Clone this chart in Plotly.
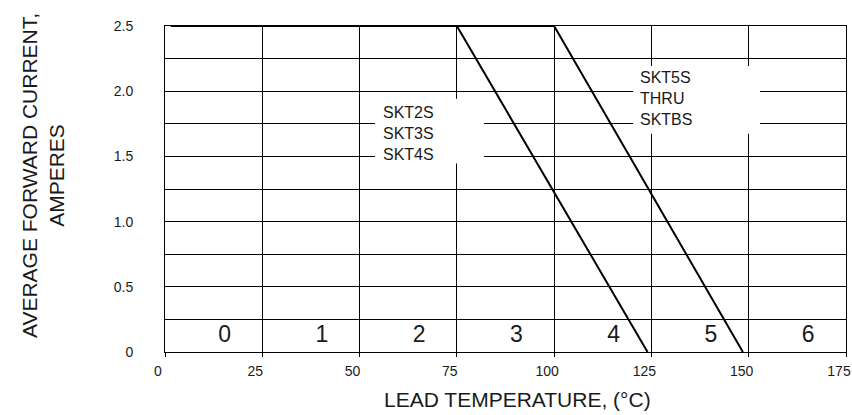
import plotly.graph_objects as go

# ---- data ----
temp_ticks = [0, 25, 50, 75, 100, 125, 150, 175]
current_ticks = [0, 0.5, 1.0, 1.5, 2.0, 2.5]
current_tick_text = ["0", "0.5", "1.0", "1.5", "2.0", "2.5"]

# derating curve SKT2S / SKT3S / SKT4S
curve1_temp = [1.5, 75, 124]
curve1_amps = [2.5, 2.5, 0]
# derating curve SKT5S thru SKTBS
curve2_temp = [1.5, 100, 148.5]
curve2_amps = [2.5, 2.5, 0]

cell_numbers = ["0", "1", "2", "3", "4", "5", "6"]
cell_x = [15.3, 40.3, 65.3, 90.3, 115.3, 140.3, 165.3]
cell_y = [0.12] * 7

label1 = "SKT2S<br>SKT3S<br>SKT4S"
label2 = "SKT5S<br>THRU<br>SKTBS"

FONT = "Arial, 'Liberation Sans', sans-serif"
INK = "#1a1a1a"

fig = go.Figure()

for xs, ys in [(curve1_temp, curve1_amps), (curve2_temp, curve2_amps)]:
    fig.add_trace(go.Scatter(x=xs, y=ys, mode="lines",
                             line=dict(color="black", width=2),
                             showlegend=False, hoverinfo="skip"))

fig.add_trace(go.Scatter(x=cell_x, y=cell_y, mode="text", text=cell_numbers,
                         textfont=dict(family=FONT, size=23, color=INK),
                         showlegend=False, hoverinfo="skip"))

# white boxes behind the labels (hide gridlines)
fig.add_shape(type="rect", x0=54.0, x1=82.0, y0=1.445, y1=1.942,
              fillcolor="white", line=dict(width=0), layer="between")
fig.add_shape(type="rect", x0=120.3, x1=152.9, y0=1.674, y1=2.194,
              fillcolor="white", line=dict(width=0), layer="between")

fig.add_annotation(x=55.5, y=1.674, text=label1, showarrow=False,
                   xanchor="left", yanchor="middle", align="left",
                   font=dict(family=FONT, size=16, color=INK))
fig.add_annotation(x=121.6, y=1.942, text=label2, showarrow=False,
                   xanchor="left", yanchor="middle", align="left",
                   font=dict(family=FONT, size=16, color=INK))

# axis titles
fig.add_annotation(xref="paper", yref="paper", x=-0.18, y=0.541,
                   text="AVERAGE FORWARD CURRENT,<br>AMPERES", textangle=-90,
                   showarrow=False, xanchor="center", yanchor="middle",
                   font=dict(family=FONT, size=21, color=INK))
fig.add_annotation(xref="paper", yref="paper", x=0.5176, y=-0.147,
                   text="LEAD TEMPERATURE, (°C)", showarrow=False,
                   xanchor="center", yanchor="middle",
                   font=dict(family=FONT, size=21, color=INK))

fig.update_xaxes(range=[0, 175], tickvals=temp_ticks,
                 ticks="outside", ticklen=4, tickcolor="black", tickwidth=1,
                 ticklabelshift=-7, ticklabelstandoff=2,
                 tickfont=dict(family=FONT, size=14, color=INK),
                 showgrid=True, gridcolor="black", gridwidth=1,
                 showline=True, linecolor="black", linewidth=1, mirror=True,
                 zeroline=False, fixedrange=True, automargin=False)
fig.update_yaxes(range=[0, 2.5], tickvals=current_ticks, ticktext=current_tick_text,
                 ticks="", ticklabelstandoff=28,
                 tickfont=dict(family=FONT, size=14, color=INK),
                 showgrid=True, gridcolor="black", gridwidth=1,
                 minor=dict(dtick=0.25, showgrid=True, gridcolor="black", gridwidth=1),
                 showline=True, linecolor="black", linewidth=1, mirror=True,
                 zeroline=False, fixedrange=True, automargin=False)

fig.update_layout(width=852, height=415,
                  margin=dict(l=165, r=6, t=26, b=63),
                  paper_bgcolor="white", plot_bgcolor="white",
                  font=dict(family=FONT, color=INK))

# remove the default page margin / scrollbars so the figure fills the window
fig.write_html(
    "out.html",
    config={"displayModeBar": False},
    post_script=("document.body.style.margin='0';"
                 "document.body.style.overflow='hidden';"
                 "document.documentElement.style.overflow='hidden';"),
)
